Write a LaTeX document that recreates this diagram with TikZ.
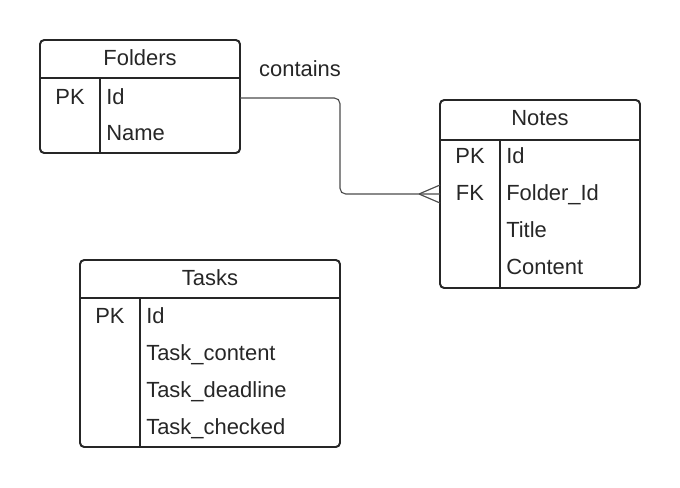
\documentclass[tikz,border=0pt]{standalone}
\usepackage{fontspec}
\setmainfont{Liberation Sans}
\begin{document}
\begin{tikzpicture}[x=0.025cm,y=-0.025cm,
    tablebox/.style={draw=black!85,line width=1.4pt,rounded corners=3pt},
    sepline/.style={draw=black!85,line width=1.4pt},
    field/.style={anchor=west,inner sep=0pt,text height=12.5pt,text depth=2pt,text=black!85,font=\fontsize{15.6}{18}\selectfont},
    keyname/.style={inner sep=0pt,text height=12.5pt,text depth=2pt,text=black!85,font=\fontsize{15.6}{18}\selectfont},
    title/.style={inner sep=0pt,text height=12.5pt,text depth=2pt,text=black!85,font=\fontsize{15.6}{18}\selectfont}]
    \useasboundingbox (0,0) rectangle (680,488);

    % Folders
    \draw[tablebox] (40,40) rectangle (240,153);
    \draw[sepline] (40,78) -- (240,78);
    \draw[sepline] (100,78) -- (100,153);
    \node[title] (folders) at (140,58) {Folders};
    \node[keyname] (folders-pk) at (70,97) {PK};
    \node[field] (folders-id) at (106,97) {Id};
    \node[field] (folders-name) at (106,133) {Name};

    % Notes
    \draw[tablebox] (440,100) rectangle (640,288);
    \draw[sepline] (440,140) -- (640,140);
    \draw[sepline] (500,140) -- (500,288);
    \node[title] (notes) at (540,118) {Notes};
    \node[keyname] (notes-pk) at (470,156) {PK};
    \node[keyname] (notes-fk) at (470,193) {FK};
    \node[field] (notes-id) at (506,156) {Id};
    \node[field] (notes-folder) at (506,193) {Folder\_Id};
    \node[field] (notes-title) at (506,230) {Title};
    \node[field] (notes-content) at (506,267) {Content};

    % Tasks
    \draw[tablebox] (80,260) rectangle (340,447);
    \draw[sepline] (80,298) -- (340,298);
    \draw[sepline] (140,298) -- (140,447);
    \node[title] (tasks) at (210,278) {Tasks};
    \node[keyname] (tasks-pk) at (110,316) {PK};
    \node[field] (tasks-id) at (146,316) {Id};
    \node[field] (tasks-content) at (146,353) {Task\_content};
    \node[field] (tasks-deadline) at (146,390) {Task\_deadline};
    \node[field] (tasks-checked) at (146,427) {Task\_checked};

    % relation
    \coordinate (folders-out) at (240,98);
    \coordinate (notes-in) at (440,194);
    \draw[black!70,line width=0.8pt,rounded corners=4pt]
        (folders-out) -- (340,98) |- (notes-in);
    \draw[black!70,line width=0.8pt] (notes-in) ++(-21,0) -- +(21,-9)
        (notes-in) ++(-21,0) -- +(21,9);
    \node[title] (contains) at (300,69) {contains};
\end{tikzpicture}
\end{document}
